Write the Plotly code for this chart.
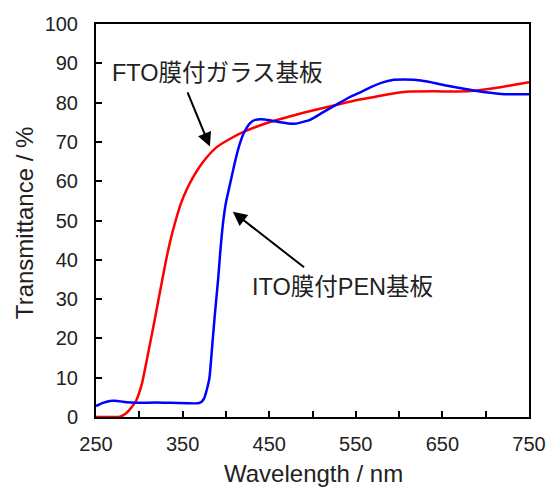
import plotly.graph_objects as go

# FTO-coated glass substrate
wl_fto = [250, 270, 278, 284, 290, 296, 303, 310, 318, 324, 331, 336, 342, 348, 355, 362, 370, 378, 389, 405, 421, 450, 479, 500, 527, 550, 568, 590, 613, 640, 669, 690, 707, 730, 750]
t_fto = [0, 0, 0.1, 0.8, 2.2, 4.0, 8.5, 16.0, 25.0, 32.0, 40.0, 45.0, 50.0, 54.3, 58.0, 61.0, 63.8, 66.1, 68.6, 70.8, 72.6, 75.0, 76.8, 78.0, 79.4, 80.6, 81.3, 82.2, 82.8, 82.9, 82.8, 83.1, 83.6, 84.4, 85.2]

# ITO-coated PEN substrate
wl_ito = [250, 258, 266, 275, 281, 290, 299, 320, 336, 355, 368, 372, 375, 378, 381, 384, 387, 391, 393.5, 396.5, 400, 404, 411, 416, 421, 428, 434, 445, 460, 479, 497, 512, 527, 542, 557, 568, 582, 594, 605, 617, 634, 651, 670, 688, 718, 750]
t_ito = [2.8, 3.6, 4.1, 4.1, 3.9, 3.7, 3.6, 3.7, 3.6, 3.5, 3.5, 3.9, 4.8, 7.0, 10.0, 17.5, 25.5, 35.0, 42.0, 49.0, 54.5, 58.5, 65.4, 69.5, 72.4, 74.8, 75.6, 75.7, 75.1, 74.6, 75.6, 77.5, 79.4, 81.3, 82.8, 84.0, 85.2, 85.8, 85.9, 85.8, 85.3, 84.5, 83.7, 83.0, 82.2, 82.1]

x_labels = [250, 350, 450, 550, 650, 750]
y_labels = [0, 10, 20, 30, 40, 50, 60, 70, 80, 90, 100]

label_fto = "FTO膜付ガラス基板"
label_ito = "ITO膜付PEN基板"

FONT = "Liberation Sans, Arial, Noto Sans CJK JP, sans-serif"
TXT = "#222222"

fig = go.Figure()
fig.add_trace(go.Scatter(x=wl_fto, y=t_fto, mode="lines", line=dict(color="#ff0000", width=2.5, shape="spline", smoothing=0.5), showlegend=False))
fig.add_trace(go.Scatter(x=wl_ito, y=t_ito, mode="lines", line=dict(color="#0000ff", width=2.5, shape="spline", smoothing=0.5), showlegend=False))

axis_common = dict(showline=True, linecolor="black", linewidth=2, mirror=True, showgrid=False, zeroline=False,
                   ticks="inside", ticklen=6, tickwidth=2, tickcolor="black",
                   tickfont=dict(family=FONT, size=20, color=TXT))

fig.update_xaxes(range=[250, 750], tickvals=x_labels, ticklabelstandoff=8, ticklabeloverflow="allow",
                 minor=dict(dtick=50, tick0=250, ticks="inside", ticklen=6, tickwidth=2, tickcolor="black"),
                 **axis_common)
fig.update_yaxes(range=[0, 100], tickvals=y_labels, ticklabelstandoff=12, ticklabeloverflow="allow", **axis_common)

W, H = 558, 487
L, R, T, B = 96, 16, 24, 70
pw, ph = W - L - R, H - T - B

annots = [
    dict(x=381.5, y=68.8, ax=355, ay=83, xref="x", yref="y", axref="x", ayref="y",
         showarrow=True, arrowhead=2, arrowsize=1.4, arrowwidth=2, arrowcolor="black", text=""),
    dict(x=408, y=52.2, ax=492, ay=37.8, xref="x", yref="y", axref="x", ayref="y",
         showarrow=True, arrowhead=2, arrowsize=1.4, arrowwidth=2, arrowcolor="black", text=""),
    dict(x=390.7, y=87.5, xref="x", yref="y", text=label_fto, showarrow=False,
         font=dict(family=FONT, size=23.5, color=TXT)),
    dict(x=534.8, y=33.1, xref="x", yref="y", text=label_ito, showarrow=False,
         font=dict(family=FONT, size=23.5, color=TXT)),
    dict(x=(320 - L) / pw, y=(H - B - 473) / ph, xref="paper", yref="paper", text="Wavelength / nm",
         showarrow=False, xanchor="center", yanchor="middle", font=dict(family=FONT, size=24, color=TXT)),
    dict(x=(23 - L) / pw, y=(H - B - 223) / ph, xref="paper", yref="paper", text="Transmittance / %",
         showarrow=False, textangle=-90, xanchor="center", yanchor="middle", font=dict(family=FONT, size=24, color=TXT)),
]

fig.update_layout(width=W, height=H, margin=dict(l=L, r=R, t=T, b=B),
                  plot_bgcolor="white", paper_bgcolor="white", annotations=annots)

fig.write_html("out.html")
